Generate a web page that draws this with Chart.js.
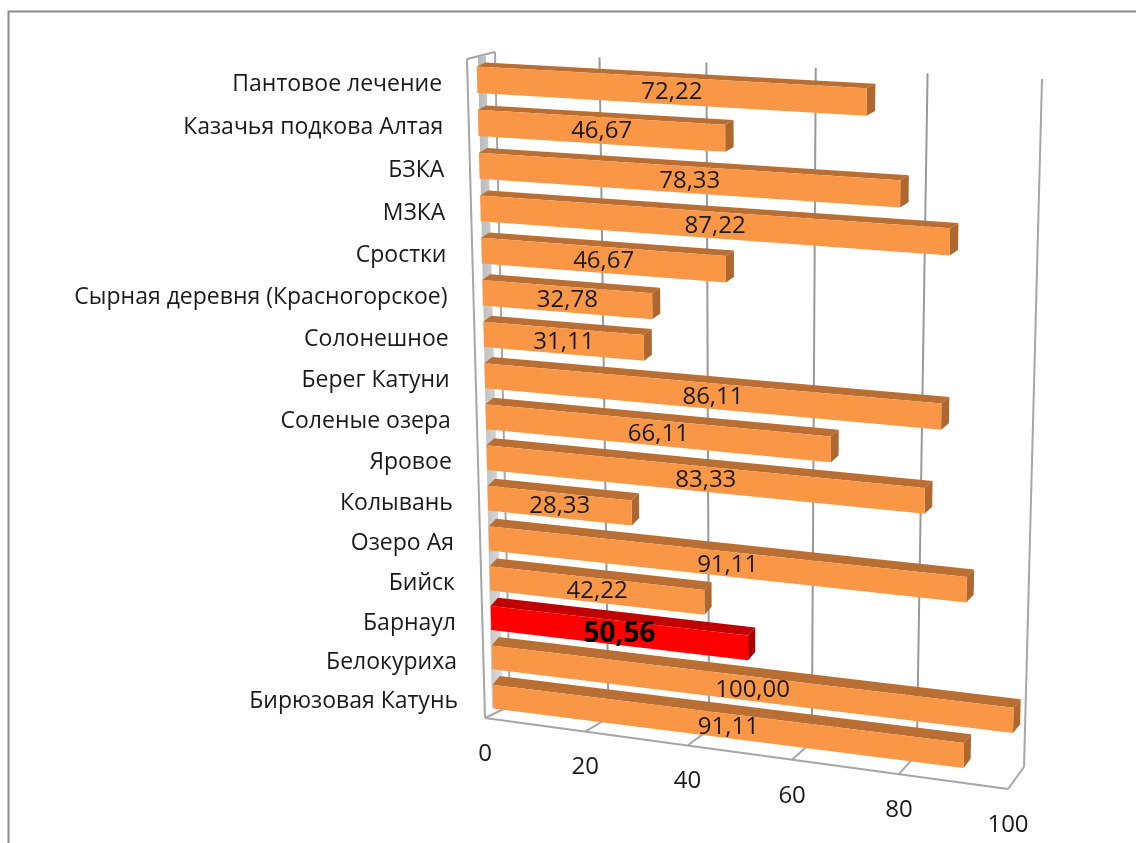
<!DOCTYPE html>
<html>
<head>
<meta charset="utf-8">
<title>Рейтинг</title>
<script src="https://cdn.jsdelivr.net/npm/chart.js@4"></script>
<style>
    html, body { margin: 0; padding: 0; background: #fff; }
    canvas { display: block; }
</style>
</head>
<body>
<canvas id="ratingChart" width="1136" height="843"></canvas>
<script>
const places = [
    'Пантовое лечение', 'Казачья подкова Алтая', 'БЗКА', 'МЗКА', 'Сростки',
    'Сырная деревня (Красногорское)', 'Солонешное', 'Берег Катуни', 'Соленые озера',
    'Яровое', 'Колывань', 'Озеро Ая', 'Бийск', 'Барнаул', 'Белокуриха', 'Бирюзовая Катунь'
];
const scores = [
    72.22, 46.67, 78.33, 87.22, 46.67, 32.78, 31.11, 86.11,
    66.11, 83.33, 28.33, 91.11, 42.22, 50.56, 100.00, 91.11
];
const highlighted = 'Барнаул';

const FONT = '"Open Sans", sans-serif';

// maps the unit square (u along the value axis, v down the categories) onto a quad
function makeQuad(tl, tr, br, bl) {
    const dx1 = tr[0] - br[0], dx2 = bl[0] - br[0], sx = tl[0] - tr[0] + br[0] - bl[0];
    const dy1 = tr[1] - br[1], dy2 = bl[1] - br[1], sy = tl[1] - tr[1] + br[1] - bl[1];
    const det = dx1 * dy2 - dx2 * dy1;
    const g = (sx * dy2 - dx2 * sy) / det;
    const h = (dx1 * sy - sx * dy1) / det;
    const a = tr[0] - tl[0] + g * tr[0], b = bl[0] - tl[0] + h * bl[0];
    const d = tr[1] - tl[1] + g * tr[1], e = bl[1] - tl[1] + h * bl[1];
    return (u, v) => {
        const w = g * u + h * v + 1;
        return [(a * u + b * v + tl[0]) / w, (d * u + e * v + tl[1]) / w];
    };
}

const barFront = makeQuad([476.5, 58], [1026, 88], [1012, 782], [493.5, 716]);
const barBack = makeQuad([485, 54], [1035, 83.5], [1019, 773], [500.5, 707]);
const backWall = makeQuad([495, 52], [1042, 79], [1024, 767], [510, 706]);

// the front edge of the floor, following the spacing of the back edge
const floorLeft = [485, 718], floorRight = [1008, 789];
function floorFront(u) {
    const t = (backWall(u, 1)[0] - 510) / (1024 - 510);
    return [
        floorLeft[0] + t * (floorRight[0] - floorLeft[0]),
        floorLeft[1] + t * (floorRight[1] - floorLeft[1])
    ];
}

function poly(ctx, points, fill) {
    ctx.beginPath();
    points.forEach((p, i) => i ? ctx.lineTo(p[0], p[1]) : ctx.moveTo(p[0], p[1]));
    ctx.closePath();
    ctx.fillStyle = fill;
    ctx.fill();
}

function line(ctx, a, b, color, width) {
    ctx.beginPath();
    ctx.moveTo(a[0], a[1]);
    ctx.lineTo(b[0], b[1]);
    ctx.strokeStyle = color;
    ctx.lineWidth = width;
    ctx.stroke();
}

const perspectivePlugin = {
    id: 'perspective',
    beforeDatasetsDraw(chart) {
        const ctx = chart.ctx;
        const xScale = chart.scales.x;
        const area = chart.chartArea;

        ctx.save();
        // frame of the picture
        ctx.beginPath();
        ctx.moveTo(8.5, 843);
        ctx.lineTo(8.5, 11.5);
        ctx.lineTo(1136, 11.5);
        ctx.strokeStyle = '#8c8c8c';
        ctx.lineWidth = 2;
        ctx.stroke();

        // side wall shading
        const shade = ctx.createLinearGradient(478, 0, 503, 0);
        shade.addColorStop(0, '#b8b8b8');
        shade.addColorStop(1, '#dcdcdc');
        poly(ctx, [[478, 57], [486, 56], [503, 708], [492, 708]], shade);

        // walls and floor
        const wall = '#a6a6a6';
        line(ctx, [467, 59], [495, 52], wall, 2);
        line(ctx, [467, 59], floorLeft, wall, 2);
        line(ctx, floorLeft, floorRight, wall, 2);

        xScale.ticks.forEach(tick => {
            const u = (xScale.getPixelForValue(tick.value) - area.left) / area.width;
            const top = backWall(u, 0), bottom = backWall(u, 1);
            const front = floorFront(u);
            line(ctx, top, bottom, u === 0 || u === 1 ? wall : '#999999', 2);
            line(ctx, bottom, front, wall, 2);

            ctx.fillStyle = '#1a1a1a';
            ctx.font = '24px ' + FONT;
            ctx.textAlign = 'center';
            ctx.textBaseline = 'middle';
            ctx.fillText(String(tick.value), front[0], front[1] + 36);
        });
        ctx.restore();
    },
    beforeDatasetDraw(chart, args) {
        const ctx = chart.ctx;
        const area = chart.chartArea;
        const meta = args.meta;

        ctx.save();
        const faces = meta.data.map((el, i) => {
            const p = el.getProps(['x', 'y', 'base', 'height'], true);
            const u = (p.x - area.left) / area.width;
            const u0 = (p.base - area.left) / area.width;
            const v1 = (p.y - p.height / 2 - area.top) / area.height;
            const v2 = (p.y + p.height / 2 - area.top) / area.height;
            const isHot = places[i] === highlighted;
            const corners = [barFront(u0, v1), barFront(u, v1), barFront(u, v2), barFront(u0, v2)];

            poly(ctx, [corners[0], corners[1], barBack(u, v1), barBack(u0, v1)], isHot ? '#c00000' : '#b96f33');
            poly(ctx, [corners[1], corners[2], barBack(u, v2), barBack(u, v1)], isHot ? '#a80000' : '#ae672e');
            poly(ctx, corners, el.options.backgroundColor);
            return { corners, isHot, value: scores[i], label: places[i], v: (p.y - area.top) / area.height };
        });

        // texts go last so that no bar covers them
        ctx.textBaseline = 'middle';
        faces.forEach(f => {
            const cx = (f.corners[0][0] + f.corners[1][0] + f.corners[2][0] + f.corners[3][0]) / 4;
            const cy = (f.corners[0][1] + f.corners[1][1] + f.corners[2][1] + f.corners[3][1]) / 4;
            ctx.fillStyle = f.isHot ? '#000000' : '#1a1a1a';
            ctx.font = (f.isHot ? 'bold 28px ' : '24px ') + FONT;
            ctx.textAlign = 'center';
            ctx.fillText(f.value.toFixed(2).replace('.', ','), cx, cy + 1);

            const start = barFront(0, f.v);
            ctx.fillStyle = '#1a1a1a';
            ctx.font = '23px ' + FONT;
            ctx.textAlign = 'right';
            ctx.fillText(f.label, start[0] - 35, start[1] + 5);
        });
        ctx.restore();
        return false;
    }
};

new Chart(document.getElementById('ratingChart').getContext('2d'), {
    type: 'bar',
    data: {
        labels: places,
        datasets: [{
            data: scores,
            backgroundColor: places.map(name => name === highlighted ? '#ff0000' : '#f99746'),
            barPercentage: 0.61,
            categoryPercentage: 1
        }]
    },
    options: {
        indexAxis: 'y',
        responsive: false,
        animation: false,
        layout: { padding: 0 },
        plugins: { legend: { display: false }, tooltip: { enabled: false } },
        scales: {
            x: { display: false, min: 0, max: 100, ticks: { stepSize: 20 } },
            y: { display: false }
        }
    },
    plugins: [perspectivePlugin]
});
</script>
</body>
</html>
